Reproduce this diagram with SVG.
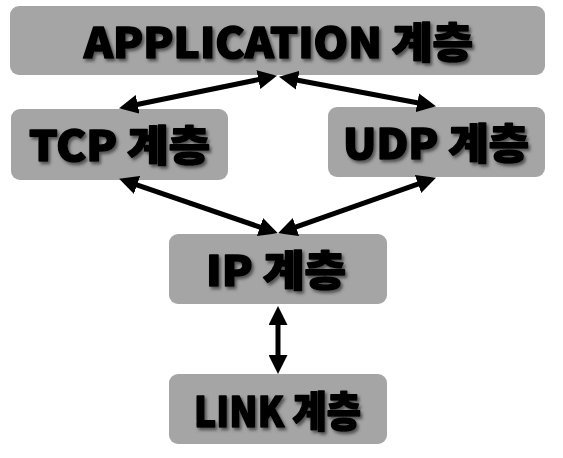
<svg xmlns="http://www.w3.org/2000/svg" width="563" height="458" viewBox="0 0 563 458">
<defs>
<style>
.box{fill:#a5a5a5;}
.lbl{font-family:"Noto Sans CJK KR","Noto Sans",sans-serif;font-weight:900;font-size:42px;fill:#000;stroke:#000;stroke-width:1.6;stroke-linejoin:round;text-anchor:middle;filter:url(#sh);}
.con{stroke:#000;stroke-width:5;fill:none;marker-start:url(#ah);marker-end:url(#ah);}
</style>
<filter id="sh" x="-10%" y="-20%" width="120%" height="150%">
<feDropShadow dx="2" dy="2.5" stdDeviation="1.5" flood-color="#3a3a3a" flood-opacity="0.8"/>
</filter>
<marker id="ah" markerUnits="userSpaceOnUse" markerWidth="19" markerHeight="19" viewBox="0 0 19 19" refX="8" refY="9.5" orient="auto-start-reverse">
<path d="M0,0 L19,9.5 L0,19 z" fill="#000"/>
</marker>
</defs>
<g id="app">
<rect class="box" x="10" y="6" width="535" height="69" rx="9"/>
<text class="lbl" x="278.5" y="58" textLength="389" lengthAdjust="spacingAndGlyphs">APPLICATION 계층</text>
</g>
<g id="tcp">
<rect class="box" x="11" y="109" width="217" height="71" rx="9"/>
<text class="lbl" x="119.5" y="161" textLength="181" lengthAdjust="spacingAndGlyphs">TCP 계층</text>
</g>
<g id="udp">
<rect class="box" x="328" y="107" width="217" height="70" rx="9"/>
<text class="lbl" x="436" y="159" textLength="186" lengthAdjust="spacingAndGlyphs">UDP 계층</text>
</g>
<g id="ip">
<rect class="box" x="169" y="234" width="218" height="70" rx="9"/>
<text class="lbl" x="276" y="286" textLength="140" lengthAdjust="spacingAndGlyphs">IP 계층</text>
</g>
<g id="link">
<rect class="box" x="169" y="374" width="218" height="70" rx="9"/>
<text class="lbl" x="277.5" y="427" textLength="167" lengthAdjust="spacingAndGlyphs">LINK 계층</text>
</g>
<g id="connectors">
<line class="con" x1="129.8" y1="106" x2="266.2" y2="78"/>
<line class="con" x1="289.8" y1="78.8" x2="425.2" y2="104.2"/>
<line class="con" x1="129.5" y1="182.3" x2="267.5" y2="229.7"/>
<line class="con" x1="425.6" y1="181.3" x2="288.4" y2="229.7"/>
<line class="con" x1="278" y1="317" x2="278" y2="363"/>
</g>
</svg>
